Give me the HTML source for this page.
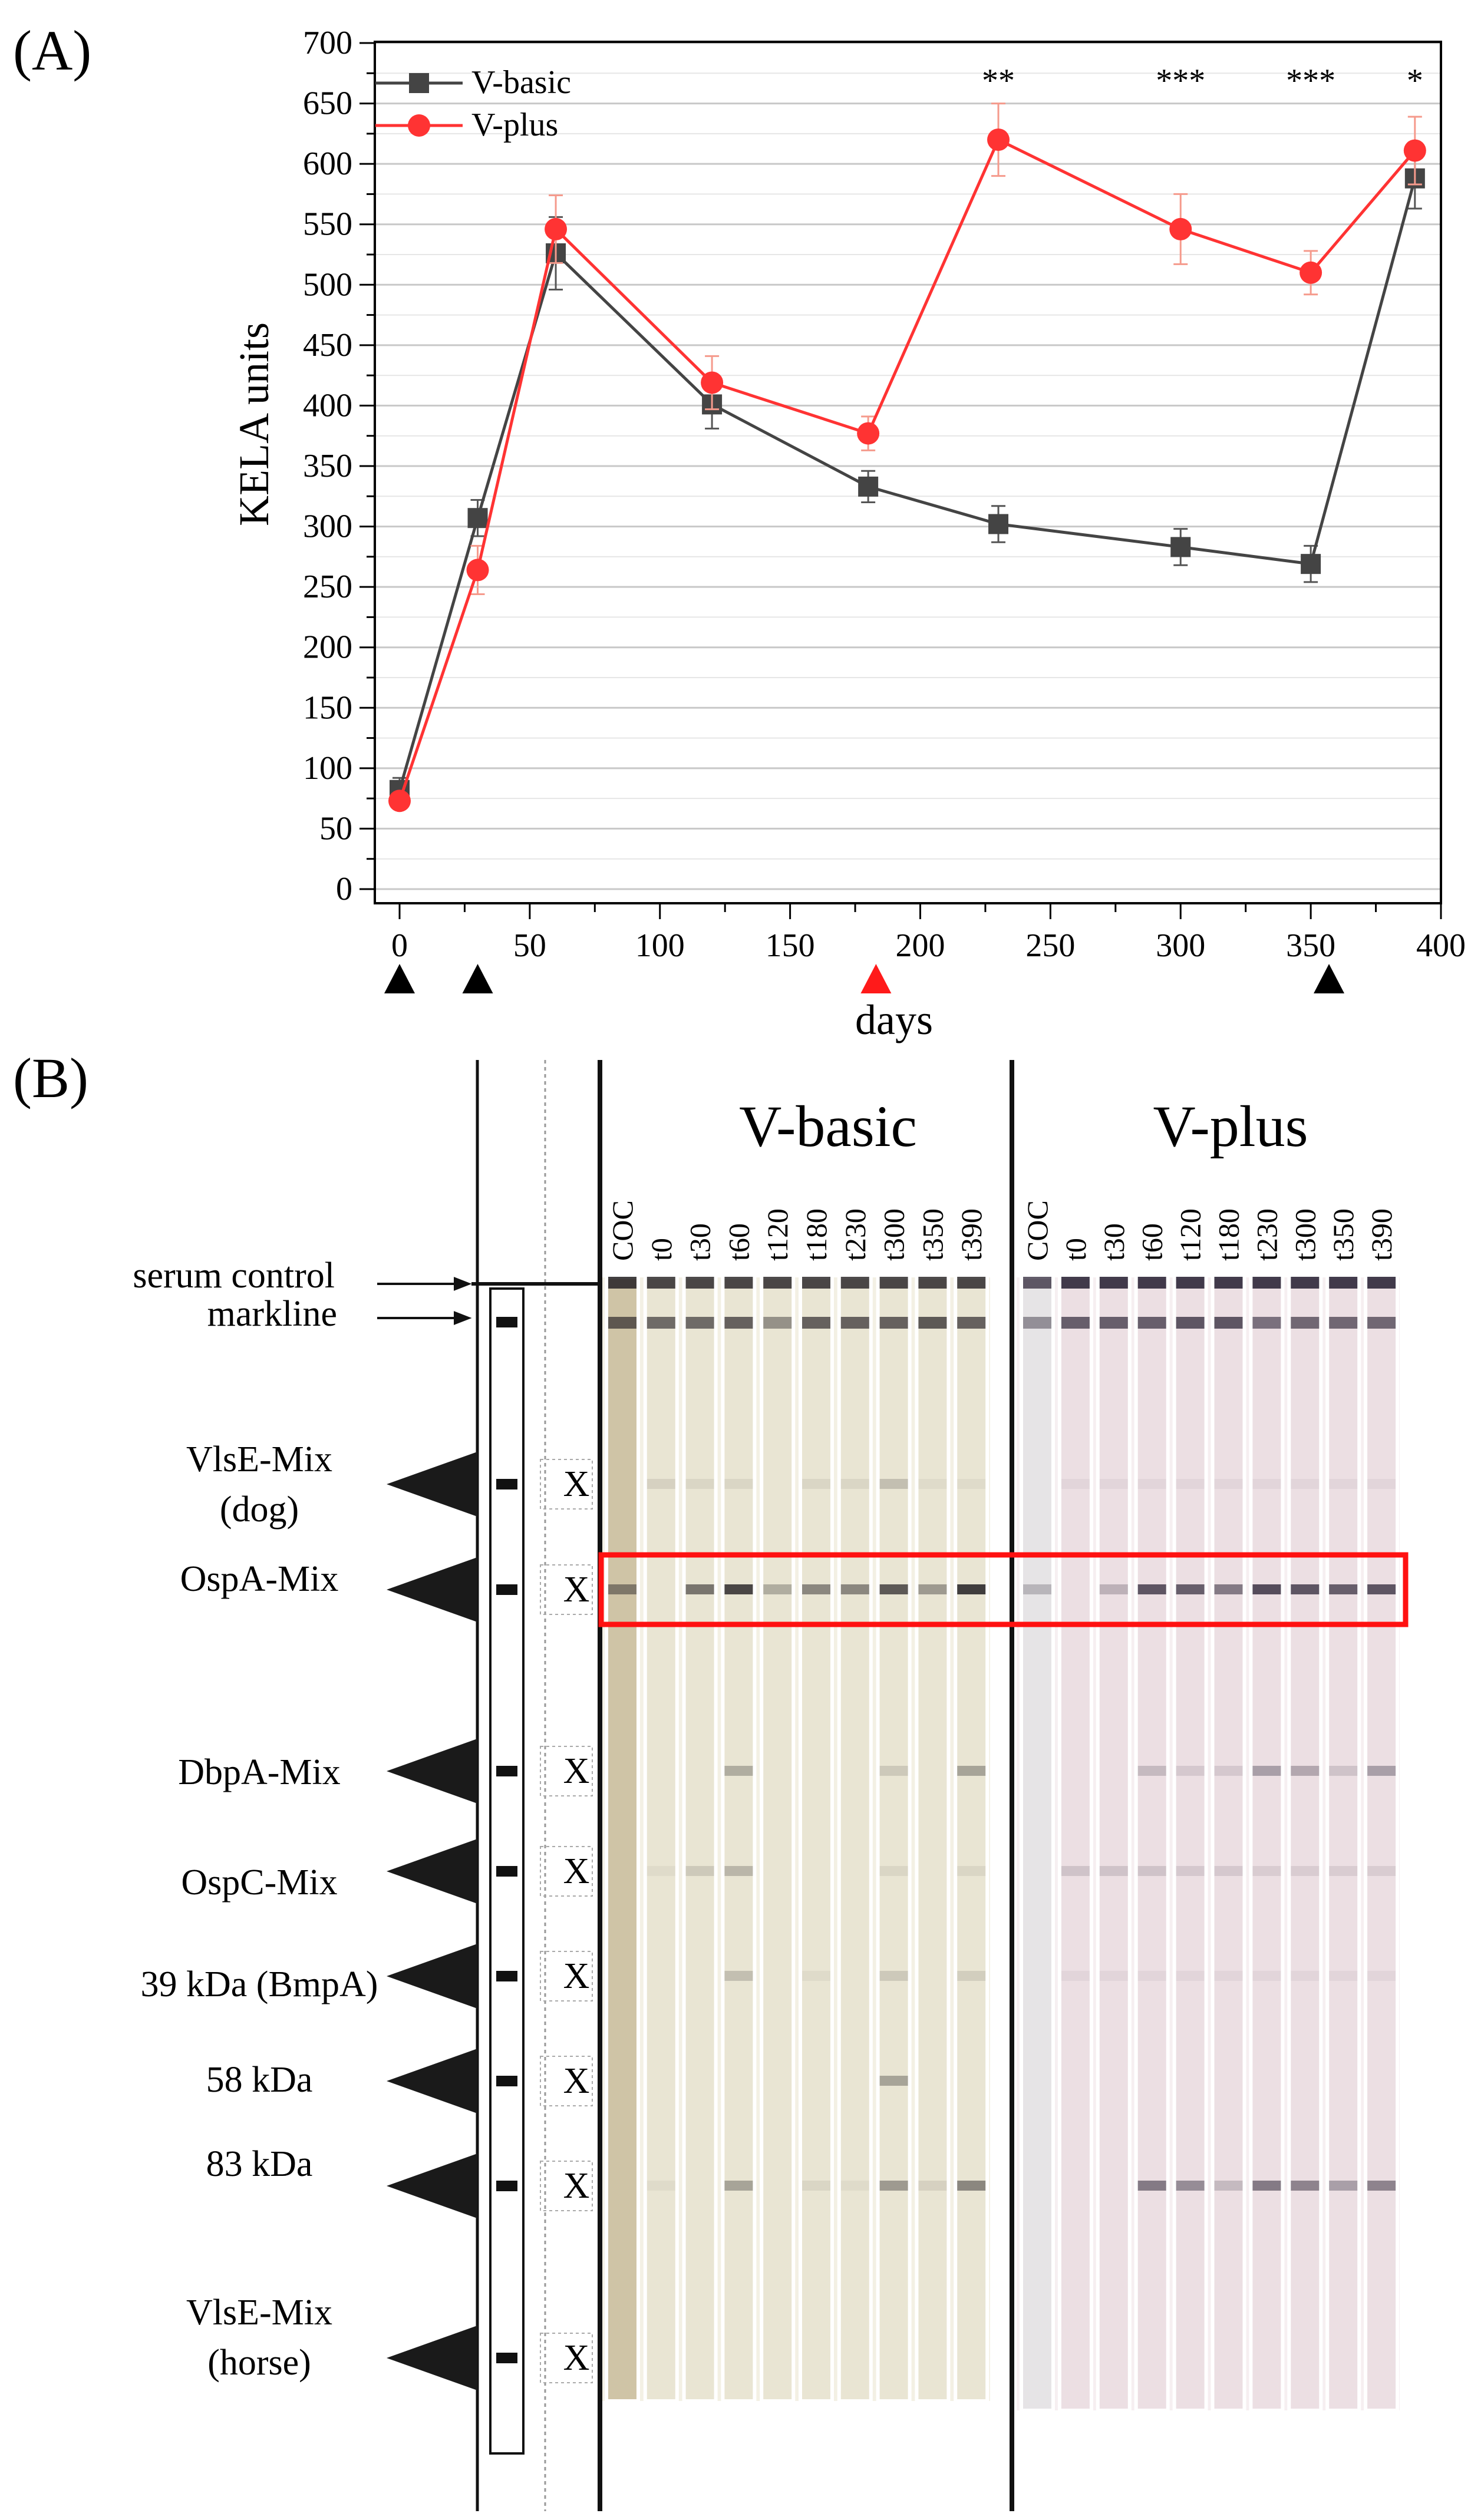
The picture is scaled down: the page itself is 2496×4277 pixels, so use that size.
<!DOCTYPE html>
<html><head><meta charset="utf-8">
<style>
html,body{margin:0;padding:0;background:#fff;}
svg{display:block;}
text{font-family:"Liberation Serif",serif;}
</style></head>
<body>
<svg id="fig" width="2496" height="4277" viewBox="0 0 2496 4277" xmlns="http://www.w3.org/2000/svg">
<g id="panelA"></g>
<g id="panelB"></g>
</svg>
<script>
// ---- Panel A data ----
const days = [0, 30, 60, 120, 180, 230, 300, 350, 390];
const basicVals = [82, 307, 526, 401, 333, 302, 283, 269, 588];
const basicErr = [10, 15, 30, 20, 13, 15, 15, 15, 25];
const plusVals = [73, 264, 546, 419, 377, 620, 546, 510, 611];
const plusErr = [5, 20, 28, 22, 14, 30, 29, 18, 28];
const yTicks = [0, 50, 100, 150, 200, 250, 300, 350, 400, 450, 500, 550, 600, 650, 700];
const xTicks = [0, 50, 100, 150, 200, 250, 300, 350, 400];
const starDays = [230, 300, 350, 390];
const starLabels = ["**", "***", "***", "*"];
const vaccDays = [0, 30, 183, 357];
const vaccRed = [false, false, true, false];

// ---- Panel B data ----
const laneLabels = ["COC","t0","t30","t60","t120","t180","t230","t300","t350","t390"];
const rowNames = ["serum control","markline","VlsE-Mix (dog)","OspA-Mix","DbpA-Mix","OspC-Mix","39 kDa (BmpA)","58 kDa","83 kDa","VlsE-Mix (horse)"];
const basicBands = [
 [0.9,0.85,0.85,0.85,0.85,0.85,0.85,0.85,0.85,0.85],
 [0.7,0.65,0.65,0.7,0.45,0.7,0.7,0.7,0.75,0.7],
 [0,0.1,0.08,0.08,0,0.08,0.08,0.2,0.05,0.05],
 [0.5,0,0.6,0.85,0.3,0.5,0.5,0.75,0.4,0.9],
 [0,0,0,0.3,0,0,0,0.15,0,0.35],
 [0,0.05,0.15,0.25,0,0,0,0.08,0,0.08],
 [0,0,0,0.2,0,0.05,0,0.15,0,0.12],
 [0,0,0,0,0,0,0,0.35,0,0],
 [0,0.05,0,0.35,0,0.08,0.05,0.4,0.1,0.5],
 [0,0,0,0,0,0,0,0,0,0]
];
const plusBands = [
 [0.75,0.9,0.9,0.9,0.9,0.9,0.9,0.9,0.9,0.9],
 [0.45,0.7,0.7,0.7,0.75,0.75,0.6,0.65,0.65,0.65],
 [0,0.05,0.05,0.05,0.05,0.05,0.05,0.05,0.05,0.05],
 [0.25,0,0.25,0.75,0.7,0.55,0.8,0.75,0.7,0.75],
 [0,0,0,0.2,0.12,0.12,0.35,0.3,0.15,0.35],
 [0,0.15,0.15,0.15,0.12,0.12,0.1,0.1,0.1,0.1],
 [0,0.05,0.05,0.05,0.05,0.05,0.05,0.05,0.05,0.05],
 [0,0,0,0,0,0,0,0,0,0],
 [0,0,0,0.55,0.45,0.2,0.55,0.5,0.35,0.5],
 [0,0,0,0,0,0,0,0,0,0]
];

const NS = "http://www.w3.org/2000/svg";
function mk(parent, tag, attrs, txt){
  const e = document.createElementNS(NS, tag);
  for (const k in attrs) e.setAttribute(k, attrs[k]);
  if (txt !== undefined) e.textContent = txt;
  parent.appendChild(e); return e;
}

// ===== Panel A =====
const A = document.getElementById('panelA');
const X0 = 678, X1 = 2445, Y0 = 1509, Y1 = 73;
const xs = d => X0 + (d / 400) * (X1 - X0);
const ys = v => Y0 - (v / 700) * (Y0 - Y1);

let t = mk(A,'text',{x:22,y:118,'font-size':96});
t.textContent = "(A)";



// grid
for (let v = 0; v <= 700; v += 25) {
  const major = v % 50 === 0;
  const g = mk(A,'line',{x1:637,x2:X1,y1:ys(v),y2:ys(v),stroke:major?'#c8c8c8':'#e6e6e6','stroke-width':major?3:2});
  
  
}
// frame
let fr = mk(A,'rect',{x:636,y:Y1-2,width:X1-636,height:1533-Y1+2,fill:'none',stroke:'#000','stroke-width':4});


// y ticks
yTicks.forEach(v=>{
  const tk = mk(A,'line',{x1:610,x2:636,y1:ys(v),y2:ys(v),stroke:'#000','stroke-width':3});
  
  
  const lb = mk(A,'text',{x:598,y:ys(v)+18,'font-size':56,'text-anchor':'end'}, String(v));
  
  
});
for (let v = 25; v < 700; v += 50) {
  const tk = mk(A,'line',{x1:622,x2:636,y1:ys(v),y2:ys(v),stroke:'#000','stroke-width':3});
  
  
}
// x ticks
xTicks.forEach(d=>{
  const tk = mk(A,'line',{x1:xs(d),x2:xs(d),y1:1533,y2:1560,stroke:'#000','stroke-width':3});
  
  
  const lb = mk(A,'text',{x:xs(d),y:1623,'font-size':56,'text-anchor':'middle'}, String(d));
  
  
});
for (let d = 25; d < 400; d += 50) {
  const tk = mk(A,'line',{x1:xs(d),x2:xs(d),y1:1533,y2:1548,stroke:'#000','stroke-width':3});
  
  
}
// axis titles
let yt = mk(A,'text',{x:0,y:0,'font-size':72,'text-anchor':'middle',transform:'translate(455 720) rotate(-90)'}, "KELA units");


let xt = mk(A,'text',{x:1517,y:1755,'font-size':72,'text-anchor':'middle'}, "days");


// vaccination triangles
vaccDays.forEach((d,i)=>{
  const cx = xs(d), cy = 1662;
  const tr = mk(A,'polygon',{points:`${cx-26},${cy+24} ${cx+26},${cy+24} ${cx},${cy-26}`,fill:vaccRed[i]?'#ff1a1a':'#000'});
  
  
});
// series
function series(vals, errs, color, errColor, shape, name){
  const g = mk(A,'g',{});
  
  
  vals.forEach((v,i)=>{
    const x = xs(days[i]);
    const eb = mk(g,'path',{d:`M${x},${ys(v-errs[i])}V${ys(v+errs[i])}M${x-12},${ys(v-errs[i])}h24M${x-12},${ys(v+errs[i])}h24`,stroke:errColor,'stroke-width':3,fill:'none'});
    
    
  });
  const pl = mk(g,'polyline',{points:vals.map((v,i)=>xs(days[i])+','+ys(v)).join(' '),fill:'none',stroke:color,'stroke-width':5});
  
  
  vals.forEach((v,i)=>{
    const x = xs(days[i]), y = ys(v);
    let m;
    if (shape==='sq') m = mk(g,'rect',{x:x-17,y:y-17,width:34,height:34,fill:color});
    else m = mk(g,'circle',{cx:x,cy:y,r:19,fill:color});
    
    
  });
}
series(basicVals, basicErr, '#444444', '#555555', 'sq', 'v-basic');
series(plusVals, plusErr, '#ff3333', '#f59a8c', 'ci', 'v-plus');
// stars
starDays.forEach((d,i)=>{
  const s = mk(A,'text',{x:xs(d),y:155,'font-size':56,'text-anchor':'middle'}, starLabels[i]);
  
  
});
// legend
let lg = mk(A,'g',{});


let l1 = mk(lg,'line',{x1:637,x2:785,y1:141,y2:141,stroke:'#444','stroke-width':5});


let l1m = mk(lg,'rect',{x:694,y:124,width:34,height:34,fill:'#444'});


let l1t = mk(lg,'text',{x:800,y:158,'font-size':56}, "V-basic");


let l2 = mk(lg,'line',{x1:637,x2:785,y1:213,y2:213,stroke:'#ff3333','stroke-width':5});


let l2m = mk(lg,'circle',{cx:711,cy:213,r:19,fill:'#ff3333'});


let l2t = mk(lg,'text',{x:800,y:230,'font-size':56}, "V-plus");



// ===== Panel B =====
const B = document.getElementById('panelB');
let bl = mk(B,'text',{x:22,y:1862,'font-size':96}, "(B)");


const rowY = [2176, 2244, 2519, 2698, 3006, 3176, 3354, 3532, 3710, 4002];

// lane backgrounds
const basicX0 = 1056, basicDX = 65.8, plusX0 = 1760, plusDX = 64.9, LW = 54;
let bbg = mk(B,'rect',{x:1020,y:2168,width:660,height:1907,fill:'#f3f0e4'});


let pbg = mk(B,'rect',{x:1725,y:2168,width:650,height:1923,fill:'#f6eff1'});


function lanes(x0, dx, bands, fillC, bandC, name, yEnd, coc){
  laneLabels.forEach((lab,i)=>{
    const cx = x0 + i*dx;
    const r = mk(B,'rect',{x:cx-LW/2,y:2168,width:LW,height:yEnd-2168,fill:(i===0?coc:fillC),stroke:'#fff','stroke-width':6});
    
    
    rowY.forEach((y,j)=>{
      const o = bands[j][i];
      if (o > 0) {
        const b = mk(B,'rect',{x:cx-LW/2+3,y:y-9,width:LW-6,height:j<2?20:17,fill:bandC,'fill-opacity':o});
        
        
      }
    });
    const tl = mk(B,'text',{x:0,y:0,'font-size':50,transform:`translate(${cx+17} 2140) rotate(-90)`}, lab);
    
    
  });
}
lanes(basicX0, basicDX, basicBands, '#e9e5d3', '#2e2a2c', 'v-basic', 4075, '#cfc4a6');
lanes(plusX0, plusDX, plusBands, '#ecdfe3', '#2f2738', 'v-plus', 4091, '#e6e4e6');

let gt1 = mk(B,'text',{x:1405,y:1945,'font-size':100,'text-anchor':'middle'}, "V-basic");


let gt2 = mk(B,'text',{x:2088,y:1945,'font-size':100,'text-anchor':'middle'}, "V-plus");



// vertical lines
[[810,5,''],[1018,8,''],[1717,8,'']].forEach(([x,w])=>{
  const l = mk(B,'line',{x1:x,x2:x,y1:1799,y2:4262,stroke:'#111','stroke-width':w});
  
  
});
let dl = mk(B,'line',{x1:925,x2:925,y1:1799,y2:4262,stroke:'#999','stroke-width':3,'stroke-dasharray':'6 6'});


let hl = mk(B,'line',{x1:800,x2:1020,y1:2179,y2:2179,stroke:'#111','stroke-width':6});



// reference strip
let rs = mk(B,'rect',{x:832,y:2187,width:56,height:1977,fill:'#fff',stroke:'#111','stroke-width':4});


rowY.forEach((y,j)=>{
  if (j===0) return;
  const b = mk(B,'rect',{x:842,y:y-9,width:36,height:18,fill:'#111'});
  
  
});

// arrows
[[2179,'serum control'],[2237,'markline']].forEach(([y])=>{
  const a = mk(B,'path',{d:`M640,${y}H790M772,${y-9}L795,${y}L772,${y+9}Z`,stroke:'#111','stroke-width':4,fill:'#111'});
  
  
});
let s1 = mk(B,'text',{x:568,y:2185,'font-size':62,'text-anchor':'end'}, "serum control");


let s2 = mk(B,'text',{x:572,y:2250,'font-size':62,'text-anchor':'end'}, "markline");



// antigen labels and triangles
const antLabels = [null,null,["VlsE-Mix","(dog)"],["OspA-Mix"],["DbpA-Mix"],["OspC-Mix"],["39 kDa (BmpA)"],["58 kDa"],["83 kDa"],["VlsE-Mix","(horse)"]];
const antLabelY = [0,0,2497,2700,3028,3215,3388,3550,3693,3945];
antLabels.forEach((lab,j)=>{
  if (!lab) return;
  const y = rowY[j];
  const tr = mk(B,'polygon',{points:`656,${y} 810,${y-55} 810,${y+55}`,fill:'#1a1a1a'});
  
  
  const xb = mk(B,'rect',{x:917,y:y-42,width:88,height:84,fill:'none',stroke:'#aaa','stroke-width':2,'stroke-dasharray':'5 5'});
  
  
  const xx = mk(B,'text',{x:978,y:y+20,'font-size':62,'text-anchor':'middle','font-family':'Liberation Sans'}, "X");
  
  
  lab.forEach((s,k)=>{
    const tt = mk(B,'text',{x:440,y:antLabelY[j]+k*85,'font-size':62,'text-anchor':'middle'}, s);
    
    
  });
});

// highlight box
let hb = mk(B,'rect',{x:1020,y:2639,width:1365,height:118,fill:'none',stroke:'#ff1111','stroke-width':9});


</script>
</body></html>
